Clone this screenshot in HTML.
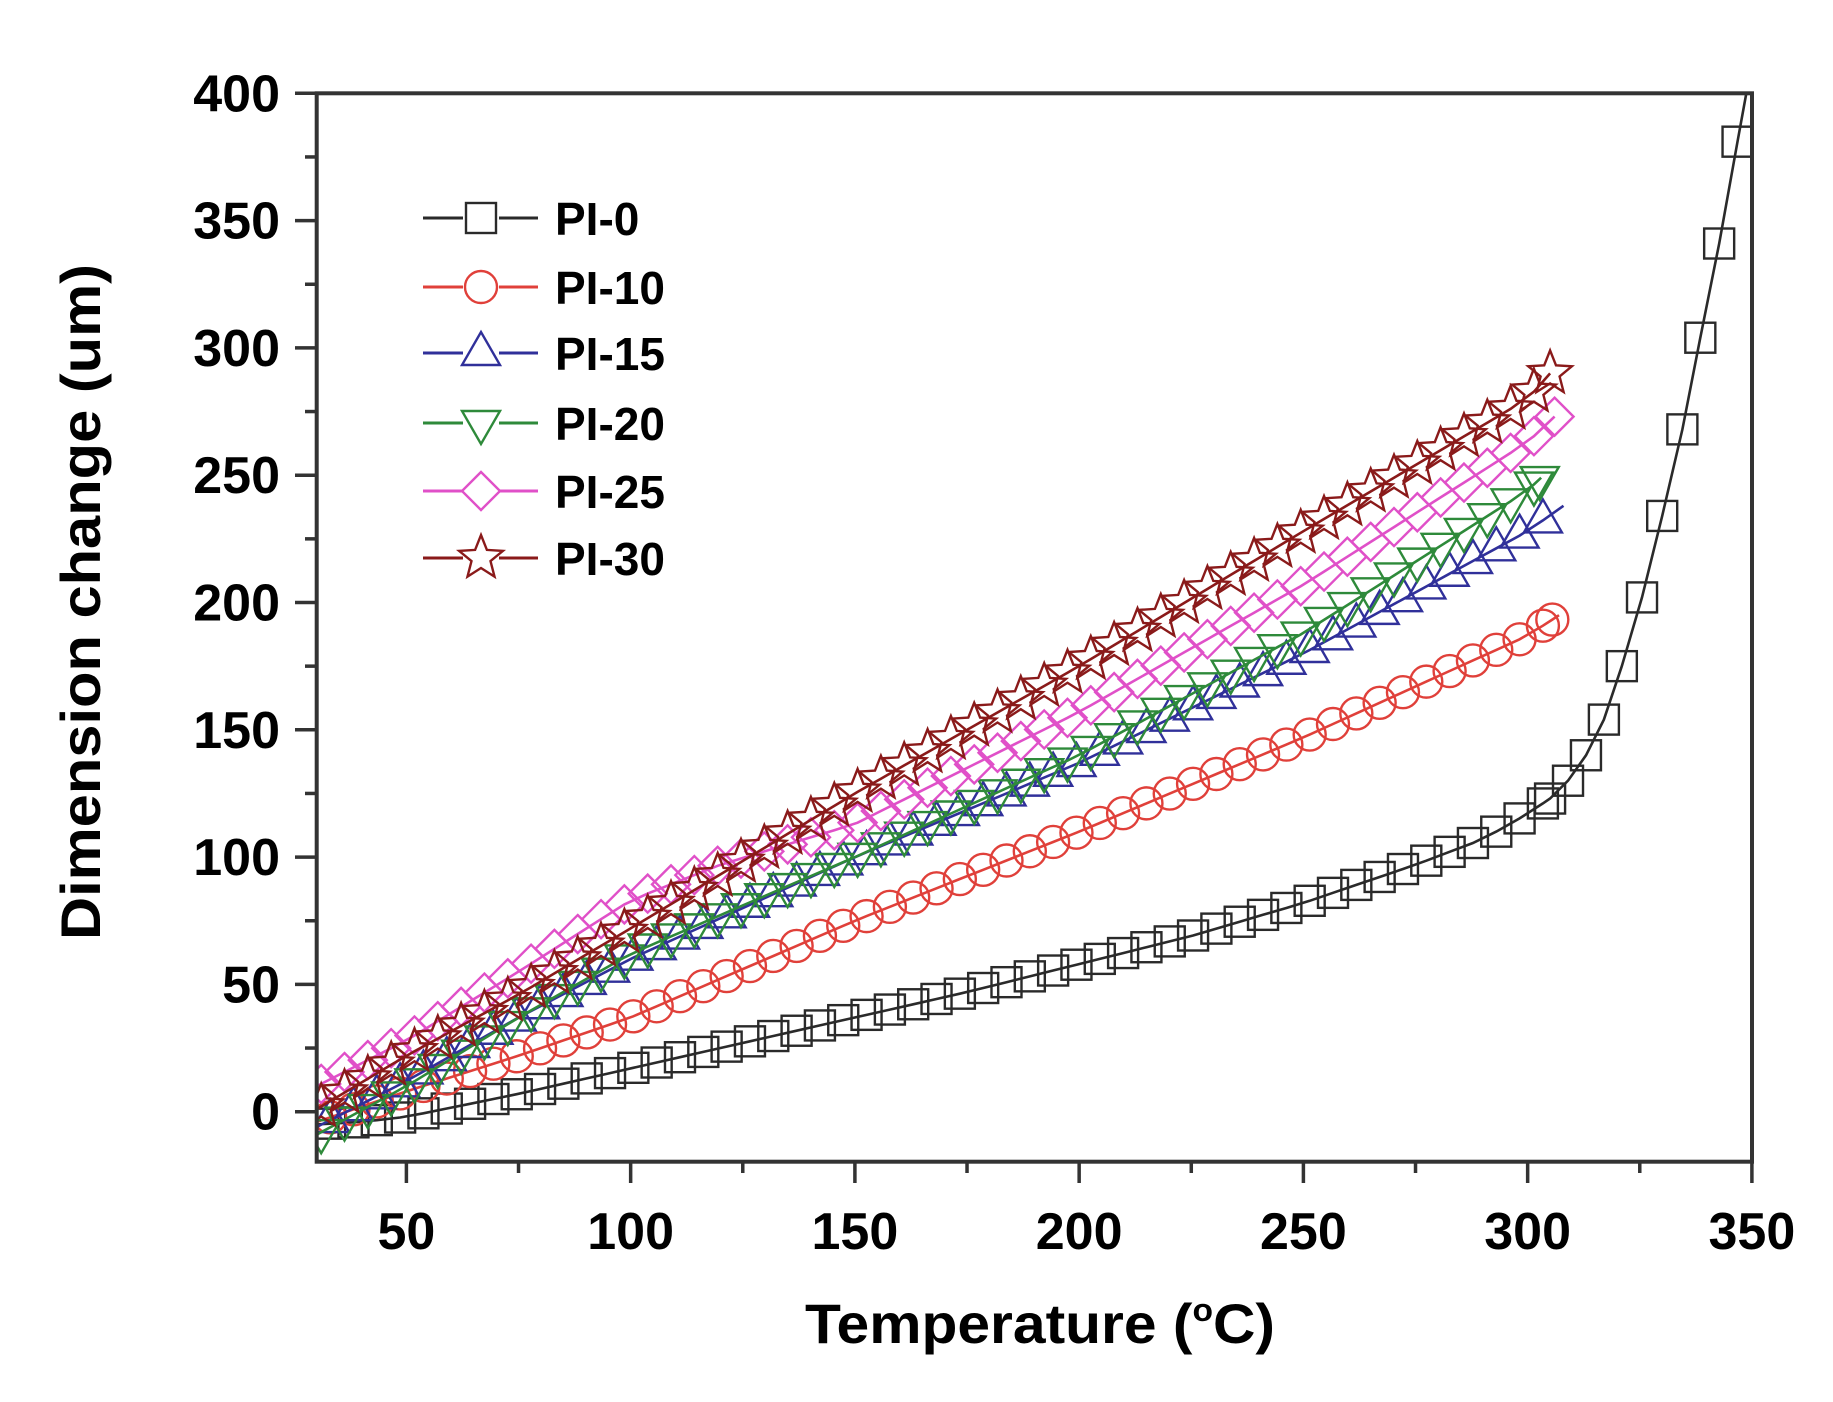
<!DOCTYPE html>
<html><head><meta charset="utf-8"><style>
html,body{margin:0;padding:0;background:#fff;}
svg{display:block;}
text{font-family:"Liberation Sans",Arial,sans-serif;font-weight:bold;fill:#000;}
</style></head><body>
<svg id="c" width="1833" height="1402" viewBox="0 0 1833 1402" xmlns="http://www.w3.org/2000/svg">
<defs><clipPath id="cp"><rect x="317" y="94" width="1435" height="1068"/></clipPath></defs>
<g id="data" clip-path="url(#cp)"></g>
<g id="axes"></g>
<g id="legend"></g>
<text x="1040" y="1343" font-size="56" text-anchor="middle" textLength="470" lengthAdjust="spacingAndGlyphs">Temperature (<tspan font-size="32" dy="-22">o</tspan><tspan dy="22">C)</tspan></text>
<text transform="translate(100,602) rotate(-90)" font-size="56" text-anchor="middle" textLength="676" lengthAdjust="spacingAndGlyphs">Dimension change (um)</text>
</svg>
<script>
var NS="http://www.w3.org/2000/svg";
function X(t){return 316.7+(t-30)*4.485;}
function Y(v){return 1111.7-v*2.546;}
function el(p,n,a){var e=document.createElementNS(NS,n);for(var k in a)e.setAttribute(k,a[k]);p.appendChild(e);return e;}
function interp(k,t){for(var i=0;i<k.length-1;i++){if(t<=k[i+1][0]){var a=k[i],b=k[i+1];return a[1]+(b[1]-a[1])*(t-a[0])/(b[0]-a[0]);}}return k[k.length-1][1];}
var axes=document.getElementById('axes');
var ax="#333";
el(axes,'rect',{x:316.7,y:93.3,width:1435.3,height:1068.4,fill:'none',stroke:ax,'stroke-width':4});
for(var v=0;v<=400;v+=25){var y=Y(v);var maj=v%50==0;el(axes,'line',{x1:maj?295:305,x2:316.7,y1:y,y2:y,stroke:ax,'stroke-width':3.5});
 if(maj){var t=el(axes,'text',{x:280,y:y+18,'font-size':52,'text-anchor':'end'});t.textContent=v;}}
for(var T=50;T<=350;T+=25){var x=X(T);var maj=T%50==0;el(axes,'line',{x1:x,x2:x,y1:1161.7,y2:maj?1183:1173,stroke:ax,'stroke-width':3.5});
 if(maj){var t=el(axes,'text',{x:x,y:1249,'font-size':52,'text-anchor':'middle'});t.textContent=T;}}
function marker(g,type,cx,cy,col){
 var a={fill:'none',stroke:col,'stroke-width':2.4};
 if(type=='sq'){a.x=cx-15;a.y=cy-15;a.width=30;a.height=30;el(g,'rect',a);}
 else if(type=='ci'){a.cx=cx;a.cy=cy;a.r=16;el(g,'circle',a);}
 else if(type=='tu'){a.points=(cx-19)+','+(cy+12)+' '+(cx+19)+','+(cy+12)+' '+cx+','+(cy-21);el(g,'polygon',a);}
 else if(type=='td'){a.points=(cx-19)+','+(cy-12)+' '+(cx+19)+','+(cy-12)+' '+cx+','+(cy+21);el(g,'polygon',a);}
 else if(type=='di'){a.points=cx+','+(cy-19)+' '+(cx+19)+','+cy+' '+cx+','+(cy+19)+' '+(cx-19)+','+cy;el(g,'polygon',a);}
 else if(type=='st'){var p=[];for(var i=0;i<10;i++){var r=i%2?10:23;var ang=-Math.PI/2+i*Math.PI/5;p.push((cx+r*Math.cos(ang)).toFixed(1)+','+(cy+r*Math.sin(ang)).toFixed(1));}a.points=p.join(' ');el(g,'polygon',a);}
}
var series=[
 {type:'sq',col:'#2a2a2a',k:[[30,-5],[40,-4],[50,-2],[75,7],[100,17],[125,27],[150,37],[175,47],[200,58],[225,69],[250,82],[275,97],[290,107],[300,117],[305,123]],end:305,start:33,
  extra:[[309,130],[313,140],[317,154],[321,175],[325.5,202],[330,234],[334.5,268],[338.5,304],[342.7,341],[346.8,381]],tail:[350,412]},
 {type:'ci',col:'#e0403a',k:[[30,-4],[50,8],[75,22],[100,37],[150,75],[200,110],[250,147],[300,187],[307,195]],start:33,end:305.5},
 {type:'tu',col:'#30309a',k:[[30,-6],[50,12],[75,37],[100,60],[150,100],[200,137],[250,180],[300,228],[308,238]],start:33,end:304},
 {type:'td',col:'#2e8a3a',k:[[30,-9],[50,10],[75,37],[100,62],[150,100],[200,140],[250,188],[300,244],[303,249]],start:31,end:302.7},
 {type:'di',col:'#e050c8',k:[[30,10],[50,28],[75,55],[100,83],[120,97],[150,113],[200,157],[250,207],[300,263],[306,273]],start:31,end:306},
 {type:'st',col:'#8a1a1a',k:[[30,1],[50,22],[75,46],[100,72],[150,125],[200,175],[250,228],[300,280],[305,290]],start:31,end:305}
];
var data=document.getElementById('data');
series.forEach(function(s){
 var pts=[];for(var t=s.start;t<=s.end+0.01;t+=5.2)pts.push([t,interp(s.k,t)]);
 if(Math.abs(pts[pts.length-1][0]-s.end)>1)pts.push([s.end,interp(s.k,s.end)]);
 if(s.extra)pts=pts.concat(s.extra);
 var line=[[30,interp(s.k,30)]].concat(pts);
 if(s.tail)line.push(s.tail); else line.push([s.k[s.k.length-1][0],s.k[s.k.length-1][1]]);
 el(data,'polyline',{points:line.map(function(p){return X(p[0]).toFixed(1)+','+Y(p[1]).toFixed(1)}).join(' '),fill:'none',stroke:s.col,'stroke-width':2.6});
 pts.forEach(function(p){marker(data,s.type,X(p[0]),Y(p[1]),s.col);});
});
var lg=document.getElementById('legend');
var names=['PI-0','PI-10','PI-15','PI-20','PI-25','PI-30'];
var ly=[218,287,353,423,491,558];
series.forEach(function(s,i){
 el(lg,'line',{x1:423,x2:538,y1:ly[i],y2:ly[i],stroke:s.col,'stroke-width':3});
 var g=el(lg,'g',{});
 el(g,'rect',{x:463,y:ly[i]-20,width:36,height:40,fill:'#fff'});
 marker(g,s.type,481,ly[i],s.col);
 var t=el(lg,'text',{x:555,y:ly[i]+17,'font-size':46});t.textContent=names[i];
});
</script>
</body></html>
